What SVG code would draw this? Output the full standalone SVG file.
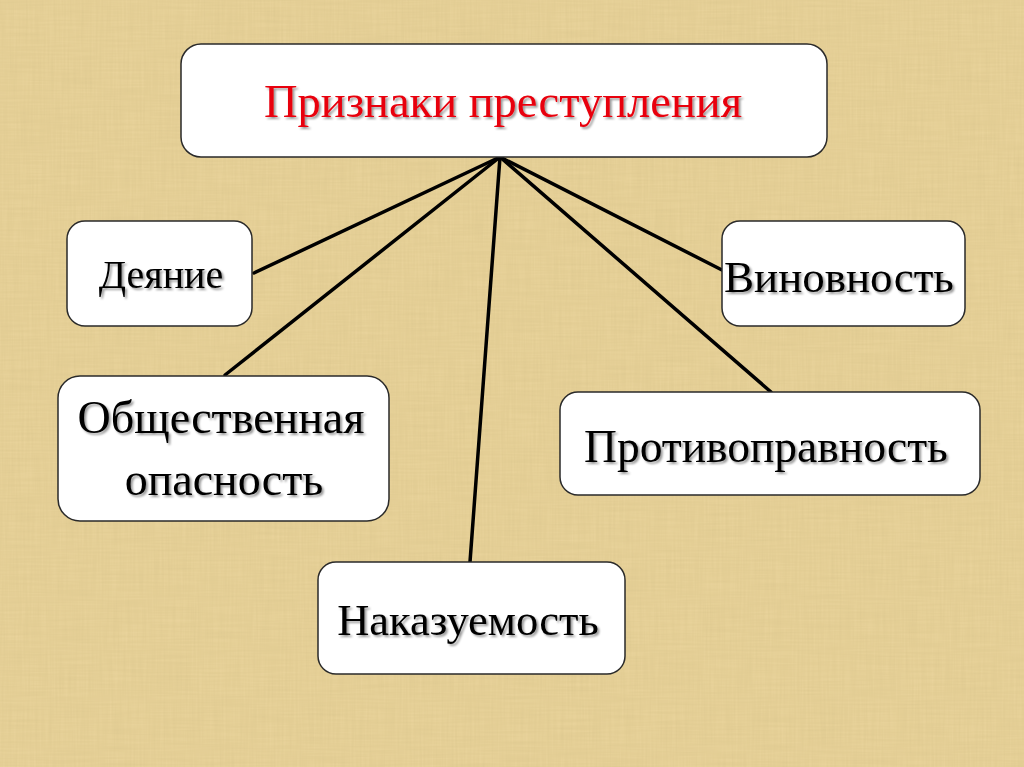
<svg xmlns="http://www.w3.org/2000/svg" width="1024" height="767" viewBox="0 0 1024 767">
<defs>
<filter id="ts" x="-10%" y="-20%" width="130%" height="150%">
<feDropShadow dx="2" dy="2" stdDeviation="1.2" flood-color="#000" flood-opacity="0.4"/>
</filter>
<filter id="paper" x="0" y="0" width="100%" height="100%">
<feTurbulence type="fractalNoise" baseFrequency="0.02 0.5" numOctaves="2" seed="3" result="n1"/>
<feColorMatrix in="n1" type="matrix" values="0 0 0 0 0.6  0 0 0 0 0.48  0 0 0 0 0.2  0 0 0 0.3 0" result="c1"/>
<feTurbulence type="fractalNoise" baseFrequency="0.5 0.02" numOctaves="2" seed="7" result="n2"/>
<feColorMatrix in="n2" type="matrix" values="0 0 0 0 0.6  0 0 0 0 0.48  0 0 0 0 0.2  0 0 0 0.28 0" result="c2"/>
<feMerge><feMergeNode in="SourceGraphic"/><feMergeNode in="c1"/><feMergeNode in="c2"/></feMerge>
</filter>
</defs>
<style>
.box{fill:#fff;stroke:#2a2a2a;stroke-width:1.5}
.t{font-family:"Liberation Serif","Times New Roman",serif;text-anchor:middle;fill:#000;filter:url(#ts)}
.conn line{stroke:#000;stroke-width:3.5;stroke-linecap:round}
</style>
<rect width="1024" height="767" fill="#ecd69e" filter="url(#paper)"/>
<g class="conn">
<line x1="500" y1="157" x2="254" y2="273"/>
<line x1="500" y1="157" x2="225" y2="375"/>
<line x1="500" y1="157" x2="470" y2="562"/>
<line x1="500" y1="157" x2="722" y2="270"/>
<line x1="500" y1="157" x2="771" y2="392"/>
</g>
<g id="root">
<rect class="box" x="181" y="44" width="646" height="113" rx="20"/>
<text class="t" x="503" y="117" font-size="46.5" style="fill:#e8000b">Признаки преступления</text>
</g>
<g id="deyanie">
<rect class="box" x="67" y="221" width="185" height="105" rx="18"/>
<text class="t" x="161" y="288" font-size="40">Деяние</text>
</g>
<g id="vinovnost">
<rect class="box" x="722" y="221" width="243" height="105" rx="18"/>
<text class="t" x="839" y="292" font-size="45">Виновность</text>
</g>
<g id="opasnost">
<rect class="box" x="58" y="376" width="331" height="145" rx="22"/>
<text class="t" x="221" y="433" font-size="46">Общественная</text>
<text class="t" x="224" y="495" font-size="46">опасность</text>
</g>
<g id="protivopravnost">
<rect class="box" x="560" y="392" width="420" height="103" rx="18"/>
<text class="t" x="766" y="462" font-size="45.5">Противоправность</text>
</g>
<g id="nakazuemost">
<rect class="box" x="318" y="562" width="307" height="112" rx="18"/>
<text class="t" x="468" y="635" font-size="44.5">Наказуемость</text>
</g>
</svg>
